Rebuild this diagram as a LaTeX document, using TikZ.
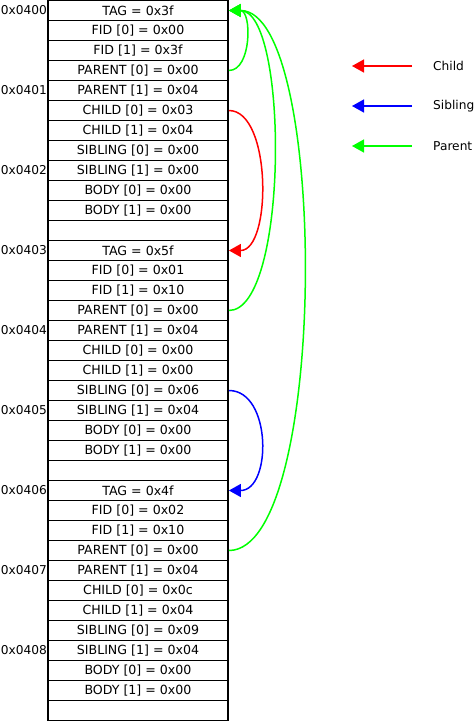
\documentclass[tikz,border=0pt]{standalone}
\usepackage{fontspec}
\setmainfont{DejaVu Sans}
\usetikzlibrary{arrows.meta,calc}
\definecolor{ChildClr}{rgb}{1,0,0}
\definecolor{SiblingClr}{rgb}{0,0,1}
\definecolor{ParentClr}{rgb}{0,1,0}

\begin{document}
\begin{tikzpicture}[x=1pt,y=-1pt,
  every node/.style={font=\fontsize{12.2}{14}\selectfont},
  cell/.style={draw,line width=1.8pt,minimum width=180pt,minimum height=20pt,inner sep=0pt,
    font=\fontsize{12.6}{14}\selectfont},
  addr/.style={anchor=east,inner sep=0pt},
  link/.style={line width=1.5pt,-{Triangle[length=12pt,width=13pt]}},
  child/.style={link,color=ChildClr},
  sibling/.style={link,color=SiblingClr},
  parent/.style={link,color=ParentClr}]
\useasboundingbox (0,0) rectangle (476,721);

% memory cells
\foreach \txt [count=\i from 0] in {
  {TAG = 0x3f},{FID [0] = 0x00},{FID [1] = 0x3f},{PARENT [0] = 0x00},
  {PARENT [1] = 0x04},{CHILD [0] = 0x03},{CHILD [1] = 0x04},{SIBLING [0] = 0x00},
  {SIBLING [1] = 0x00},{BODY [0] = 0x00},{BODY [1] = 0x00},{},
  {TAG = 0x5f},{FID [0] = 0x01},{FID [1] = 0x10},{PARENT [0] = 0x00},
  {PARENT [1] = 0x04},{CHILD [0] = 0x00},{CHILD [1] = 0x00},{SIBLING [0] = 0x06},
  {SIBLING [1] = 0x04},{BODY [0] = 0x00},{BODY [1] = 0x00},{},
  {TAG = 0x4f},{FID [0] = 0x02},{FID [1] = 0x10},{PARENT [0] = 0x00},
  {PARENT [1] = 0x04},{CHILD [0] = 0x0c},{CHILD [1] = 0x04},{SIBLING [0] = 0x09},
  {SIBLING [1] = 0x04},{BODY [0] = 0x00},{BODY [1] = 0x00},{}}
  \node[cell] (r\i) at (138,10.5+20*\i) {\txt};

% addresses
\foreach \k in {0,...,8}
  \node[addr] (a\k) at (47,10.5+80*\k) {0x040\k};

% links
\draw[parent] (r3.east) .. controls +(23,0) and +(23,0) .. (r0.east);
\draw[parent] (r15.east) .. controls +(60,0) and +(60,0) .. (r0.east);
\draw[parent] (r27.east) .. controls +(100,0) and +(100,0) .. (r0.east);
\draw[child] (r5.east) .. controls +(43,0) and +(43,0) .. (r12.east);
\draw[sibling] (r19.east) .. controls +(43,0) and +(43,0) .. (r24.east);

% legend
\coordinate (cs) at (412,66);  \coordinate (ce) at (352,66);
\coordinate (ss) at (412,106); \coordinate (se) at (352,106);
\coordinate (ps) at (412,146); \coordinate (pe) at (352,146);
\draw[child] (cs) -- (ce);
\draw[sibling] (ss) -- (se);
\draw[parent] (ps) -- (pe);
\node[anchor=west,inner sep=0pt] (lchild) at (433,66) {Child};
\node[anchor=west,inner sep=0pt] (lsibling) at (433,106) {Sibling};
\node[anchor=west,inner sep=0pt] (lparent) at (433,146) {Parent};

\end{tikzpicture}
\end{document}
